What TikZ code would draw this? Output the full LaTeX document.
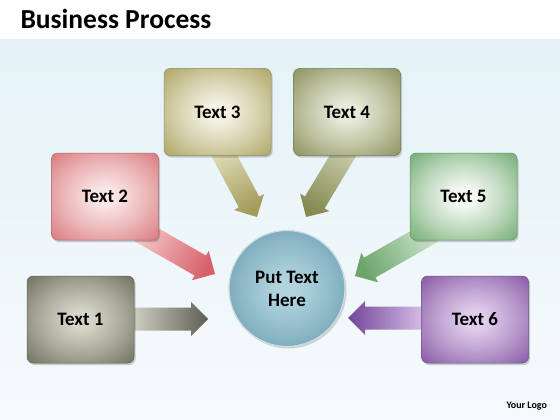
\documentclass[tikz,border=0pt]{standalone}
\usepackage{fontspec}
\setmainfont{Carlito}
\usetikzlibrary{calc}
\definecolor{bgtop}{HTML}{E4F2F7}
\definecolor{bgbot}{HTML}{F6FAFC}
\definecolor{aIn}{HTML}{D6D6C8}\definecolor{aOut}{HTML}{7A7A6C}
\definecolor{bIn}{HTML}{FAE6E6}\definecolor{bOut}{HTML}{DC8488}
\definecolor{cIn}{HTML}{F4F2E4}\definecolor{cOut}{HTML}{B4AC70}
\definecolor{dIn}{HTML}{E8EADA}\definecolor{dOut}{HTML}{949A68}
\definecolor{eIn}{HTML}{F4F9F4}\definecolor{eOut}{HTML}{80B480}
\definecolor{fIn}{HTML}{E0CEEC}\definecolor{fOut}{HTML}{9064AC}
\definecolor{gIn}{HTML}{B0D4DE}\definecolor{gOut}{HTML}{6A9CB0}
\definecolor{aL}{HTML}{D6D6CA}\definecolor{aD}{HTML}{5E5E52}
\definecolor{bL}{HTML}{F2C6C6}\definecolor{bD}{HTML}{D8606A}
\definecolor{cL}{HTML}{E4E0BE}\definecolor{cD}{HTML}{A49C5A}
\definecolor{dL}{HTML}{CDD0B0}\definecolor{dD}{HTML}{858B52}
\definecolor{eL}{HTML}{C8E2C8}\definecolor{eD}{HTML}{6CA46C}
\definecolor{fL}{HTML}{DCC6EA}\definecolor{fD}{HTML}{74449A}
\colorlet{boxin}{white}\colorlet{boxout}{gray}
\pgfdeclareradialshading[boxin,boxout]{boxshade}{\pgfpoint{0bp}{0bp}}{%
  color(0bp)=(boxin); color(5bp)=(boxin); color(20bp)=(boxin!50!boxout);
  color(33bp)=(boxout); color(50bp)=(boxout!85!black)}
\tikzset{
  box/.style 2 args={rounded corners=6pt, minimum width=107pt, minimum height=87pt,
    inner sep=0pt, /utils/exec={\colorlet{boxin}{#1}\colorlet{boxout}{#2}},
    shade, shading=boxshade, draw=#2!80!black, line width=0.5pt,
    font=\fontsize{19}{21}\selectfont\bfseries, text=black,
    preaction={fill=black, opacity=0.18, transform canvas={shift={(1.5pt,-2pt)}}}},
  hub/.style={circle, minimum size=116pt, inner sep=0pt,
    /utils/exec={\colorlet{boxin}{gIn}\colorlet{boxout}{gOut}},
    shade, shading=boxshade,
    draw=white!65!gOut, line width=1.2pt, align=center,
    font=\fontsize{19}{23}\selectfont\bfseries, text=black,
    preaction={fill=black, opacity=0.15, transform canvas={shift={(1.5pt,-2pt)}}}},
}
% #1 tail, #2 tip, #3 shading angle, #4 light, #5 dark
\newcommand\blockarrow[5]{%
  \coordinate (hb) at ($(#2)!17pt!(#1)$);
  \shade[top color=#5, bottom color=#4, shading angle=#3]
    ($(#1)!11.5pt!90:(#2)$) -- ($(hb)!11.5pt!90:(#2)$) -- ($(hb)!17pt!90:(#2)$) -- (#2)
    -- ($(hb)!17pt!-90:(#2)$) -- ($(hb)!11.5pt!-90:(#2)$) -- ($(#1)!11.5pt!-90:(#2)$) -- cycle;
}
\begin{document}
\begin{tikzpicture}[x=1pt,y=-1pt]
\useasboundingbox (0,0) rectangle (560,420);
\fill[white] (0,0) rectangle (560,40);
\shade[top color=bgtop, bottom color=bgbot] (0,40) rectangle (560,420);
\node[anchor=base west, font=\fontsize{27.5}{30}\selectfont\bfseries] (title) at (17,29) {Business Process};
\node[anchor=base west, font=\fontsize{10}{12}\selectfont\bfseries] (logo) at (503,408) {Your Logo};

\coordinate (s1) at (128,319); \coordinate (e1) at (208,319);
\coordinate (s2) at (140,231); \coordinate (e2) at (215,274);
\coordinate (s3) at (218,144); \coordinate (e3) at (257,217);
\coordinate (s4) at (350,144); \coordinate (e4) at (306,217);
\coordinate (s5) at (432,232); \coordinate (e5) at (355,276);
\coordinate (s6) at (428,318); \coordinate (e6) at (348,318);

\blockarrow{s1}{e1}{-90}{aL}{aD}
\blockarrow{s2}{e2}{-119.6}{bL}{bD}
\blockarrow{s3}{e3}{-151.7}{cL}{cD}
\blockarrow{s4}{e4}{-210.8}{dL}{dD}
\blockarrow{s5}{e5}{-240.3}{eL}{eD}
\blockarrow{s6}{e6}{90}{fL}{fD}

\node[box={aIn}{aOut}] (t1) at (80.5,319.5) {Text 1};
\node[box={bIn}{bOut}] (t2) at (105,196.5) {Text 2};
\node[box={cIn}{cOut}] (t3) at (217.5,112) {Text 3};
\node[box={dIn}{dOut}] (t4) at (347,112) {Text 4};
\node[box={eIn}{eOut}] (t5) at (463.5,196.5) {Text 5};
\node[box={fIn}{fOut}] (t6) at (475,319.5) {Text 6};
\node[hub] (hub) at (287,288.5) {Put Text\\Here};
\end{tikzpicture}
\end{document}
